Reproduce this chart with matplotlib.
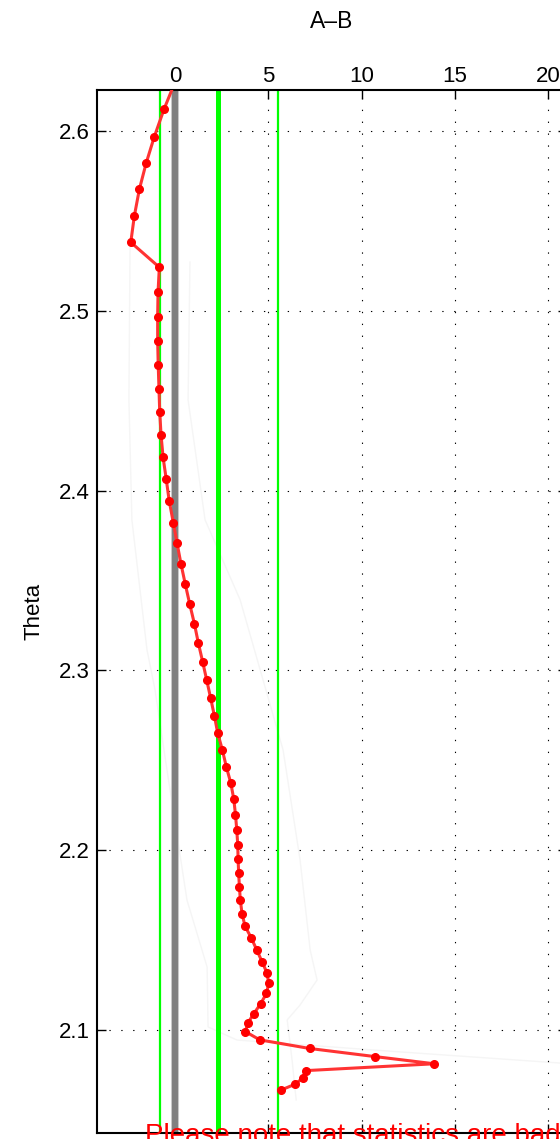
import numpy as np
import matplotlib
matplotlib.use("Agg")
import matplotlib.pyplot as plt

plt.rcParams['font.family'] = ['Liberation Sans', 'DejaVu Sans']

# red A-B profile (theta, value)
theta = [2.6272, 2.6121, 2.5968, 2.5820, 2.5676, 2.5527, 2.5381, 2.5242, 2.5103,
         2.4967, 2.4830, 2.4699, 2.4567, 2.4439, 2.4311, 2.4185, 2.4063, 2.3942,
         2.3821, 2.3707, 2.3592, 2.3479, 2.3368, 2.3258, 2.3152, 2.3048, 2.2945,
         2.2845, 2.2747, 2.2650, 2.2556, 2.2463, 2.2373, 2.2283, 2.2196, 2.2111,
         2.2029, 2.1949, 2.1871, 2.1795, 2.1721, 2.1647, 2.1578, 2.1513, 2.1445,
         2.1380, 2.1319, 2.1260, 2.1203, 2.1145, 2.1090, 2.1041, 2.0991, 2.0945,
         2.0897, 2.0852, 2.0812, 2.0774, 2.0732, 2.0699, 2.0666]
a_minus_b = [0.00, -0.59, -1.11, -1.55, -1.91, -2.18, -2.37, -0.84, -0.91,
             -0.93, -0.93, -0.90, -0.86, -0.82, -0.75, -0.64, -0.47, -0.31,
             -0.09, 0.11, 0.32, 0.55, 0.79, 1.04, 1.25, 1.48, 1.70,
             1.91, 2.11, 2.29, 2.54, 2.75, 2.99, 3.15, 3.24, 3.31,
             3.36, 3.38, 3.41, 3.45, 3.50, 3.59, 3.75, 4.08, 4.38,
             4.66, 4.92, 5.02, 4.90, 4.58, 4.22, 3.91, 3.77, 4.54,
             7.22, 10.71, 13.89, 7.02, 6.83, 6.45, 5.68]

# faint background curves
faint1_theta = [2.5355, 2.4504, 2.3837, 2.3113, 2.2891, 2.2446, 2.1723, 2.1350,
                2.1017, 2.0944, 2.0878, 2.0816]
faint1_x = [-2.41, -2.47, -2.31, -1.50, -1.07, -0.43, 0.64, 1.72, 1.77, 3.32, 12.06, 20.64]
faint2_theta = [2.5271, 2.4504, 2.3837, 2.3392, 2.2557, 2.1946, 2.1445, 2.1278,
                2.1139, 2.1056, 2.0833, 2.0611]
faint2_x = [0.80, 0.70, 1.61, 3.49, 5.79, 6.70, 7.24, 7.61, 6.70, 6.01, 6.27, 6.49]

# vertical reference lines
green_thin = [-0.79, 5.5]
green_thick = 2.32
zero_line = 0.0

fig = plt.figure(figsize=(5.6, 11.39), dpi=100)
ax = fig.add_axes([97/560, 6/1139, 470/560, 1043/1139])

ax.plot(faint1_x, faint1_theta, color='#f5f5f5', lw=1, zorder=1)
ax.plot(faint2_x, faint2_theta, color='#f5f5f5', lw=1, zorder=1)

ax.axvline(zero_line, color='#c8c8c8', lw=5.8, zorder=2)
ax.axvline(zero_line, color='#808080', lw=4.3, zorder=2)
for g in green_thin:
    ax.axvline(g, color='#00ff00', lw=1.6, zorder=2)
ax.axvline(green_thick, color='#00ff00', lw=3.6, zorder=2)

ax.plot(a_minus_b, theta, color='#ff3333', lw=2.2, marker='o', markersize=5.5,
        markerfacecolor='#ff0000', markeredgecolor='#ff0000', zorder=3)

ax.set_xlim(-4.18, 21.0)
ax.set_ylim(2.0427, 2.6228)
ax.set_xticks([0, 5, 10, 15, 20])
ax.set_yticks([2.1, 2.2, 2.3, 2.4, 2.5, 2.6])

ax.grid(True, color='black', linestyle=(0, (1.2, 9.5)), linewidth=0.8)
ax.tick_params(direction='in', length=6.5, width=1, top=True, bottom=True,
               left=True, right=True, labeltop=True, labelbottom=False,
               labelsize=16)
ax.tick_params(axis='x', pad=1.8)
ax.tick_params(axis='y', pad=5)
for s in ax.spines.values():
    s.set_linewidth(1.5)

ax.set_title('A\u2013B', fontsize=16.5, y=1 + (90 - 22) / 1043, va='center', pad=0)
ax.set_ylabel('Theta', fontsize=16)
ax.yaxis.set_label_coords(-0.111, 0.5)

ax.text(-1.61, 2.0372, 'Please note that statistics are bad', color='red',
        fontsize=20, ha='left', va='baseline', clip_on=False)

fig.savefig('out.png', dpi=100)
